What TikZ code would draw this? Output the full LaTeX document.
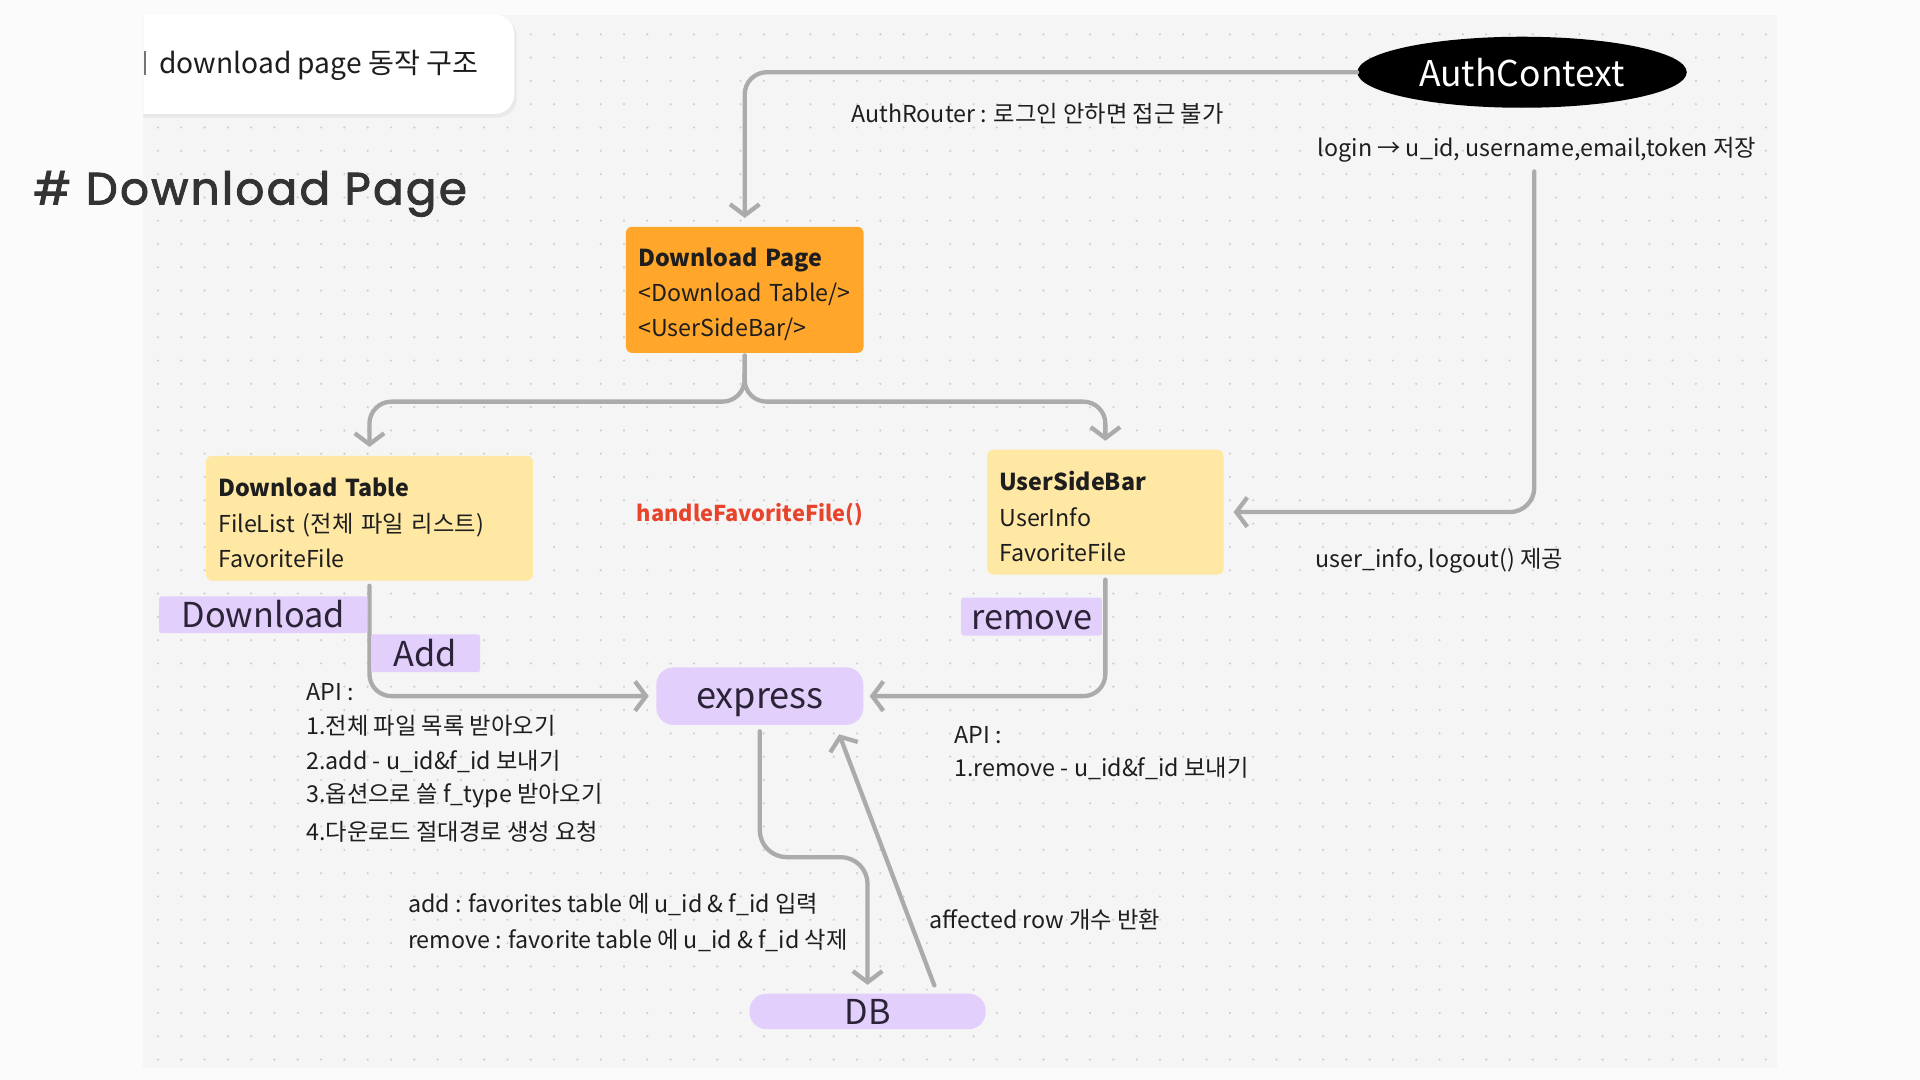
\documentclass[tikz,border=0pt]{standalone}
\usepackage{fontspec}
\setmainfont{Noto Sans CJK KR}
\newfontfamily\hfont{Poppins}[LetterSpace=5,FakeBold=2]
\usetikzlibrary{arrows.meta,shapes.geometric}
\definecolor{pagebg}{HTML}{FBFBFB}
\definecolor{canvasbg}{HTML}{F5F5F5}
\definecolor{dotc}{HTML}{CFCFCF}
\definecolor{linec}{HTML}{ABABAB}
\definecolor{orangebox}{HTML}{FFA62B}
\definecolor{yellowbox}{HTML}{FFE8A3}
\definecolor{lavender}{HTML}{E2CFFB}
\definecolor{inkc}{HTML}{1E1E1E}
\definecolor{redtxt}{HTML}{E8432B}
\definecolor{labink}{HTML}{2B2438}
\definecolor{shadowc}{HTML}{E9E9E9}
\newcommand\toppad{\rule{0pt}{23pt}}
\tikzset{
  txt/.style={anchor=west, inner sep=0pt, text=inkc, font=\fontsize{19}{22}\selectfont},
  box/.style={anchor=north west, inner xsep=10pt, inner ysep=0pt, align=left,
    rounded corners=5pt, text=inkc, font=\fontsize{19}{28.7}\selectfont},
  tag/.style={fill=lavender, inner sep=0pt, text=labink, rounded corners=2pt,
    text height=21pt, text depth=0pt, font=\fontsize{28}{30}\selectfont},
  pill/.style={fill=lavender, inner sep=0pt, text=labink, rounded corners=14pt,
    text height=21pt, text depth=0pt},
  conn/.style={draw=linec, line width=3.5pt, rounded corners=18pt, line cap=round,
    -{Straight Barb[length=9pt,width=24pt]}},
}
\begin{document}
\begin{tikzpicture}[x=1pt,y=-1pt]
\useasboundingbox (0,0) rectangle (1568,882);
\fill[pagebg] (0,0) rectangle (1568,882);
\fill[canvasbg] (117,12) rectangle (1451,872);
\foreach \i in {0,...,69}{
  \foreach \j in {0,...,44}{
    \fill[dotc] ({129+19.03*\i},{28+19.03*\j}) circle (1pt);
  }
}
% title card
\begin{scope}
  \clip (117,0) rectangle (440,110);
  \fill[shadowc, rounded corners=16pt] (90,14) rectangle (422,96);
  \fill[white, rounded corners=16pt] (90,12) rectangle (420,93);
\end{scope}
\draw[line width=1.5pt, color=black!55] (118.5,42) -- (118.5,61);
\node[txt, font=\fontsize{23}{26}\selectfont] (title) at (130,53) {download page 동작 구조};
\node[anchor=base west, inner sep=0pt, text=black!80, font=\hfont\fontsize{37}{42}\selectfont] (hd) at (27,167) {\# Download Page};

% main nodes
\node[ellipse, fill=black, minimum width=269pt, minimum height=58pt, inner sep=0pt,
  text=white, font=\fontsize{29}{31}\selectfont] (auth) at (1243,59) {AuthContext};
\node[box, fill=orangebox, minimum width=194pt, minimum height=103pt, text width=174pt]
  (dp) at (511,185) {\toppad\textbf{Download Page}\\<Download Table/>\\<UserSideBar/>};
\node[box, fill=yellowbox, minimum width=267pt, minimum height=102pt, text width=247pt]
  (dt) at (168,372) {\toppad\textbf{Download Table}\\FileList (전체 파일 리스트)\\FavoriteFile};
\node[box, fill=yellowbox, minimum width=193pt, minimum height=102pt, text width=173pt]
  (usb) at (806,367) {\toppad\textbf{UserSideBar}\\UserInfo\\FavoriteFile};
\node[pill, minimum width=169pt, minimum height=47pt, text height=20pt, font=\fontsize{29.5}{31}\selectfont]
  (ex) at (620.5,568.5) {express};
\node[pill, minimum width=193pt, minimum height=29pt, font=\fontsize{28}{30}\selectfont]
  (db) at (708.5,826) {DB};

% connectors
\draw[conn, shorten >=7pt] (auth.west) -| (dp.north);
\coordinate (lg) at (1253,140);
\draw[conn, rounded corners=20pt, shorten >=8pt] (lg) |- (usb.east);
\draw[conn, shorten <=2pt, shorten >=7pt] (dp.south) -- (608,328) -| (dt.north);
\draw[conn, shorten <=2pt, shorten >=7pt] (dp.south) -- (608,328) -| (usb.north);
\draw[conn, shorten <=4pt, shorten >=6pt] (dt.south) |- (ex.west);
\draw[conn, shorten <=4pt, shorten >=5pt] (usb.south) |- (ex.east);
\draw[conn, rounded corners=22pt, shorten <=5pt, shorten >=7pt] (ex.south) -- (620.5,700) -| (db.north);
\draw[conn, shorten <=7pt, shorten >=8pt] ([xshift=57pt]db.north) -- ([xshift=62pt]ex.south);

% labels on flow
\node[tag, minimum width=170pt, minimum height=30pt] (tdl) at (215,502) {Download};
\node[tag, minimum width=89pt, minimum height=31pt] (tadd) at (347.5,533.5) {Add};
\node[tag, minimum width=115pt, minimum height=31pt] (trm) at (842.5,503.5) {remove};

% texts
\node[txt] (ar) at (695,93) {AuthRouter : 로그인 안하면 접근 불가};
\node[txt] (lgt) at (1076,122) {login → u\_id, username,email,token 저장};
\node[txt] (ui) at (1074,458) {user\_info, logout() 제공};
\node[txt, text=redtxt, font=\bfseries\fontsize{17.8}{20}\selectfont] (hff) at (520,420) {handleFavoriteFile()};
\node[txt] (a0) at (250,565) {API :};
\node[txt] (a1) at (250,593) {1.전체 파일 목록 받아오기};
\node[txt] (a2) at (250,622) {2.add - u\_id\&f\_id 보내기};
\node[txt] (a3) at (250,650) {3.옵션으로 쓸 f\_type 받아오기};
\node[txt] (a4) at (250,679) {4.다운로드 절대경로 생성 요청};
\node[txt] (b0) at (779,600) {API :};
\node[txt] (b1) at (779,628) {1.remove - u\_id\&f\_id 보내기};
\node[txt] (c1) at (333,739) {add : favorites table 에 u\_id \& f\_id 입력};
\node[txt] (c2) at (333,768) {remove : favorite table 에 u\_id \& f\_id 삭제};
\node[txt] (af) at (759,751) {affected row 개수 반환};
\end{tikzpicture}
\end{document}
